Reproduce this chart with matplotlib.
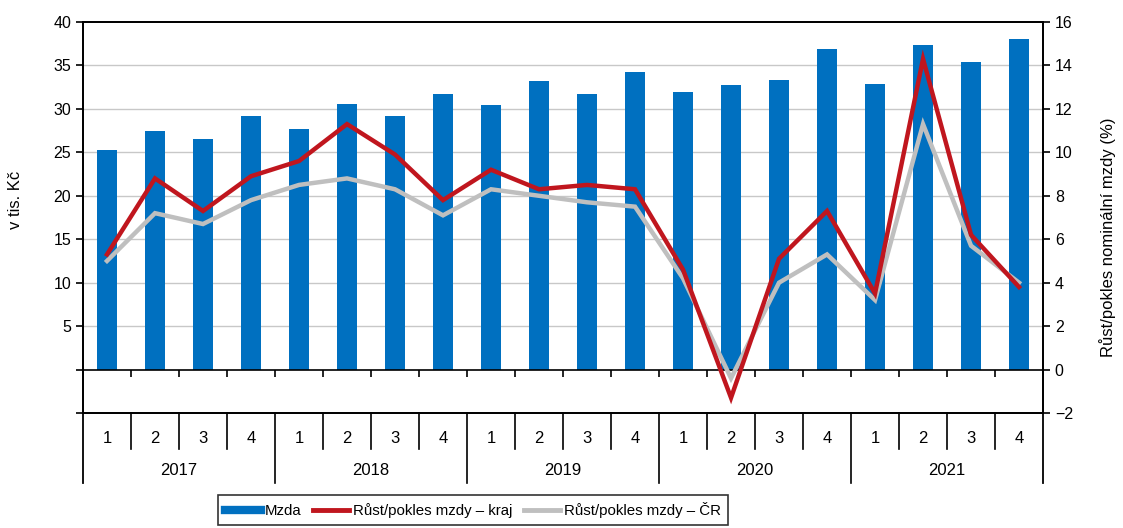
import numpy as np
import matplotlib.pyplot as plt
from matplotlib.lines import Line2D
from matplotlib.ticker import FuncFormatter

plt.rcParams['font.family'] = ['Liberation Sans', 'DejaVu Sans']

years = ['2017', '2018', '2019', '2020', '2021']
quarters = ['1', '2', '3', '4']

# prumerna mzda v tis. Kc
mzda = [25.3, 27.4, 26.5, 29.2,
        27.7, 30.6, 29.2, 31.7,
        30.4, 33.2, 31.7, 34.2,
        31.9, 32.7, 33.3, 36.9,
        32.9, 37.3, 35.4, 38.1]

# rust/pokles nominalni mzdy (%)
rust_kraj = [5.3, 8.8, 7.3, 8.9,
             9.6, 11.3, 9.9, 7.8,
             9.2, 8.3, 8.5, 8.3,
             4.6, -1.3, 5.1, 7.3,
             3.5, 14.3, 6.2, 3.8]
rust_cr = [5.0, 7.2, 6.7, 7.8,
           8.5, 8.8, 8.3, 7.1,
           8.3, 8.0, 7.7, 7.5,
           4.2, -0.4, 4.0, 5.3,
           3.2, 11.3, 5.7, 4.0]

blue = '#0070C0'
red = '#C0161E'
gray = '#BFBFBF'

n = len(mzda)
x = np.arange(n)

fig = plt.figure(figsize=(11.23, 5.28), dpi=100)
ax = fig.add_axes([0.0739, 0.2178, 0.8549, 0.7405])
ax2 = ax.twinx()

ax.set_axisbelow(True)
ax.yaxis.grid(True, color='#C8C8C8', lw=1)
ax.bar(x, mzda, width=0.4, color=blue, zorder=2)
ax.axhline(0, color='black', lw=1.2, zorder=3)
ax.vlines(np.arange(1, n) - 0.5, -0.9, 0, color='black', lw=1.2, zorder=3)

ax2.plot(x, rust_cr, color=gray, lw=3.2, solid_joinstyle='miter')
ax2.plot(x, rust_kraj, color=red, lw=3.2, solid_joinstyle='miter')

ax.set_xlim(-0.5, n - 0.5)
ax.set_ylim(-5, 40)
ax.set_yticks(np.arange(-5, 41, 5))
ax.yaxis.set_major_formatter(FuncFormatter(lambda v, p: '%d' % v if v > 0 else ''))
ax.get_yaxis().set_tick_params(direction='out', length=5, width=1.2, labelsize=11.5)
ax.set_xticks([])
ax2.set_ylim(-2, 16)
ax2.set_yticks(np.arange(-2, 17, 2))
ax2.get_yaxis().set_tick_params(direction='out', length=5, width=1.2, labelsize=11.5)
ax2.set_xticks([])

# mrizka je jen pro kladnou cast
for gl, v in zip(ax.yaxis.get_gridlines(), np.arange(-5, 41, 5)):
    if v <= 0 or v >= 40:
        gl.set_visible(False)

for a in (ax, ax2):
    for s in a.spines.values():
        s.set_linewidth(1.3)
        s.set_color('black')

# popisky kategorii pod osou
tr = ax.get_xaxis_transform()
for i in range(n):
    ax.text(i, -0.064, quarters[i % 4], transform=tr, ha='center', va='center', fontsize=12)
for k in range(1, n):
    bottom = -0.179 if k % 4 == 0 else -0.092
    ax.add_line(Line2D([k - 0.5, k - 0.5], [0, bottom], transform=tr, color='black', lw=1.2, clip_on=False))
for edge in (-0.5, n - 0.5):
    ax.add_line(Line2D([edge, edge], [0, -0.179], transform=tr, color='black', lw=1.3, clip_on=False))
for j, yr in enumerate(years):
    ax.text(j * 4 + 1.5, -0.146, yr, transform=tr, ha='center', va='center', fontsize=12)

fig.text(15 / 1123, 1 - 200 / 528, 'v tis. Kč', rotation=90, ha='center', va='center', fontsize=12)
fig.text(1108 / 1123, 1 - 237 / 528, 'Růst/pokles nominální mzdy (%)', rotation=90,
         ha='center', va='center', fontsize=12)

handles = [Line2D([], [], color=blue, lw=6),
           Line2D([], [], color=red, lw=3.5),
           Line2D([], [], color=gray, lw=3.5)]
labels = ['Mzda', 'Růst/pokles mzdy – kraj', 'Růst/pokles mzdy – ČR']
leg = fig.legend(handles, labels, loc='upper left', bbox_to_anchor=(218 / 1123, 1 - 495 / 528),
                 ncol=3, fontsize=10.8, frameon=True, fancybox=False, edgecolor='black',
                 handlelength=2.4, handletextpad=0.25, columnspacing=0.8, borderpad=0.45,
                 borderaxespad=0)
leg.get_frame().set_linewidth(1.2)

fig.savefig('out.png', dpi=100)
